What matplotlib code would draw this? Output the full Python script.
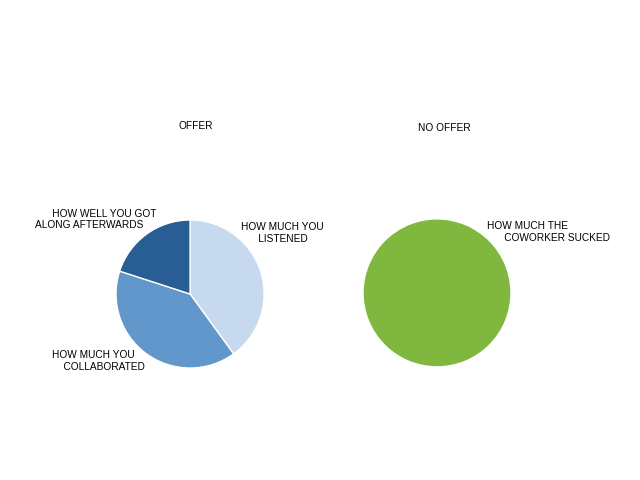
import matplotlib.pyplot as plt

plt.rcParams['font.family'] = ['Liberation Sans', 'DejaVu Sans']
plt.rcParams['font.size'] = 7.3

# === DATA ===
offer_labels = ["HOW MUCH YOU\n      LISTENED",
                "HOW MUCH YOU\n    COLLABORATED",
                "      HOW WELL YOU GOT\nALONG AFTERWARDS"]
offer_values = [40, 40, 20]
offer_colors = ["#c6d9ee", "#6197cb", "#285e93"]

no_offer_labels = ["HOW MUCH THE\n      COWORKER SUCKED"]
no_offer_values = [100]
no_offer_colors = ["#80b73e"]

titles = ["OFFER", "NO OFFER"]

fig = plt.figure(figsize=(6.4, 4.8), dpi=100)

# axes boxes in pixels -> figure fractions
ax1 = fig.add_axes([96 / 640, 28 / 480, 200 / 640, 316 / 480])
ax2 = fig.add_axes([344 / 640, 28 / 480, 200 / 640, 316 / 480])

# label anchor spots (data units, pie radius = 1) and alignment
offer_label_pos = [(0.69, 0.97, 'left'), (-1.865, -0.76, 'left'), (-0.46, 1.15, 'right')]
no_offer_label_pos = [(0.676, 0.97, 'left')]

for ax, vals, cols, labs, spots, title, xl, yl, pad in [
        (ax1, offer_values, offer_colors, offer_labels, offer_label_pos, titles[0],
         (-1.27, 1.43), (-2.135, 2.135), 5),
        (ax2, no_offer_values, no_offer_colors, no_offer_labels, no_offer_label_pos, titles[1],
         (-1.257, 1.446), (-2.15, 2.12), 3.5)]:
    ax.pie(vals, colors=cols, startangle=90, counterclock=False, radius=1,
           wedgeprops=dict(edgecolor='white', linewidth=1))
    for lab, (x, y, ha) in zip(labs, spots):
        ax.text(x, y, lab, ha=ha, va='top', multialignment='left')
    ax.set_xlim(*xl)
    ax.set_ylim(*yl)
    ax.set_aspect('auto')
    ax.set_title(title, fontsize=7.3, pad=pad)
    ax.axis('off')

fig.savefig("out.png", dpi=100)
